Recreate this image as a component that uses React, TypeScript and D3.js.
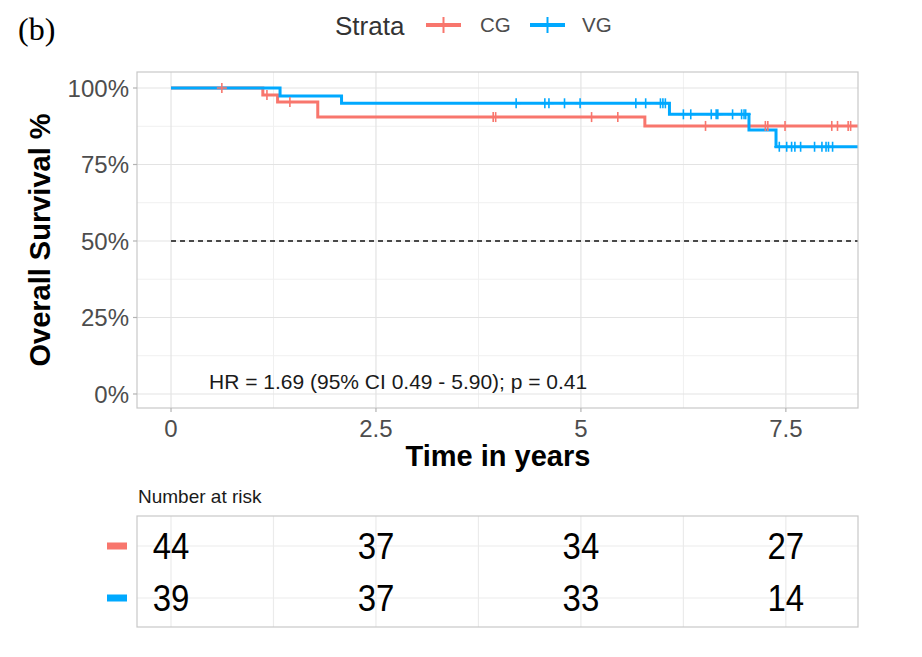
import React from "react";
import * as d3 from "d3";

// ---- data ----
const strata = ["CG", "VG"];
const colors = ["#F8766D", "#00A9FF"];

const cgStepTimes = [0, 1.12, 1.3, 1.79, 5.78];
const cgStepSurv = [1, 0.977, 0.954, 0.905, 0.876];
const cgCensor = [0.62, 1.17, 1.45, 3.93, 3.96, 5.13, 5.45, 6.52, 7.25, 7.28, 7.49, 8.06, 8.13, 8.26, 8.29];

const vgStepTimes = [0, 1.33, 2.08, 6.08, 7.05, 7.38];
const vgStepSurv = [1, 0.974, 0.95, 0.914, 0.863, 0.808];
const vgCensor = [4.21, 4.56, 4.61, 4.8, 4.99, 5.67, 5.79, 5.97, 6.0, 6.03, 6.25, 6.34, 6.59, 6.65, 6.67, 6.85, 6.96, 6.99, 7.01, 7.42, 7.51, 7.57, 7.61, 7.68, 7.85, 7.94, 7.99, 8.02, 8.07];

const xTicks = [0, 2.5, 5, 7.5];
const xMinor = [1.25, 3.75, 6.25];
const yTicks = [0, 0.25, 0.5, 0.75, 1];
const yMinor = [0.125, 0.375, 0.625, 0.875];

const riskTimes = [0, 2.5, 5, 7.5];
const riskCG = [44, 37, 34, 27];
const riskVG = [39, 37, 33, 14];

const hrText = "HR = 1.69 (95% CI 0.49 - 5.90); p = 0.41";

const X_MAX = 8.38;

export default function App() {
  const left = 137, right = 858, top = 72, bottom = 408;
  const x = d3.scaleLinear().domain([-0.415, X_MAX]).range([left, right]);
  const y = d3.scaleLinear().domain([-0.0458, 1.0523]).range([bottom, top]);

  const series = [
    { times: cgStepTimes, surv: cgStepSurv, censor: cgCensor, color: colors[0] },
    { times: vgStepTimes, surv: vgStepSurv, censor: vgCensor, color: colors[1] },
  ];

  const lineGen = d3
    .line<[number, number]>()
    .x((d) => x(d[0]))
    .y((d) => y(d[1]))
    .curve(d3.curveStepAfter);

  const survAt = (times: number[], surv: number[], t: number) => {
    const i = d3.bisectRight(times, t) - 1;
    return surv[Math.max(0, i)];
  };

  const grey30 = "#4D4D4D";
  const font = "Liberation Sans, Arial, sans-serif";

  // risk table
  const tTop = 516, tBottom = 627;
  const rowY = d3.scalePoint<string>().domain(strata).range([546, 598]);

  return (
    <svg width={922} height={657} style={{ position: "absolute", left: 0, top: 0, background: "#fff" }} fontFamily={font}>
      <defs>
        <clipPath id="panel">
          <rect x={left} y={top} width={right - left} height={bottom - top} />
        </clipPath>
      </defs>
      <rect width={922} height={657} fill="#fff" />
      {/* (b) label */}
      <text x={18} y={40} fontFamily="Liberation Serif, Times New Roman, serif" fontSize={32} fill="#000">(b)</text>

      {/* legend */}
      <text x={335} y={35} fontSize={26} fill="#333">Strata</text>
      {strata.map((s, i) => {
        const lx = i === 0 ? 426 : 530;
        const tx = i === 0 ? 480 : 582;
        return (
          <g key={s}>
            <line x1={lx} x2={lx + 35} y1={25} y2={25} stroke={colors[i]} strokeWidth={4} />
            <line x1={lx + 17.5} x2={lx + 17.5} y1={17} y2={33} stroke={colors[i]} strokeWidth={2} />
            <text x={tx} y={32} fontSize={20.5} fill={grey30}>{s}</text>
          </g>
        );
      })}

      {/* panel grid */}
      {xMinor.map((t) => (
        <line key={"xm" + t} x1={x(t)} x2={x(t)} y1={top} y2={bottom} stroke="#F0F0F0" strokeWidth={1} />
      ))}
      {yMinor.map((v) => (
        <line key={"ym" + v} x1={left} x2={right} y1={y(v)} y2={y(v)} stroke="#F0F0F0" strokeWidth={1} />
      ))}
      {xTicks.map((t) => (
        <line key={"xg" + t} x1={x(t)} x2={x(t)} y1={top} y2={bottom} stroke="#E3E3E3" strokeWidth={1.2} />
      ))}
      {yTicks.map((v) => (
        <line key={"yg" + v} x1={left} x2={right} y1={y(v)} y2={y(v)} stroke="#E3E3E3" strokeWidth={1.2} />
      ))}

      {/* median dashed line */}
      <line x1={x(0)} x2={right} y1={y(0.5)} y2={y(0.5)} stroke="#111" strokeWidth={1.4} strokeDasharray="5,4" />

      {/* curves */}
      <g clipPath="url(#panel)">
        {series.map((s, i) => {
          const pts: [number, number][] = s.times.map((t, j) => [t, s.surv[j]] as [number, number]);
          pts.push([X_MAX, s.surv[s.surv.length - 1]]);
          return <path key={"l" + i} d={lineGen(pts) || ""} fill="none" stroke={s.color} strokeWidth={3} />;
        })}
        {series.map((s, i) => (
          <g key={"c" + i}>
            {s.censor.map((t, j) => {
              const cx = x(t), cy = y(survAt(s.times, s.surv, t));
              return (
                <g key={j}>
                  <line x1={cx} x2={cx} y1={cy - 5} y2={cy + 5} stroke={s.color} strokeWidth={1.6} />
                  <line x1={cx - 5} x2={cx + 5} y1={cy} y2={cy} stroke={s.color} strokeWidth={1.6} />
                </g>
              );
            })}
          </g>
        ))}
      </g>

      {/* HR text */}
      <text x={209} y={389} fontSize={21} fill="#1a1a1a">{hrText}</text>

      {/* panel border */}
      <rect x={left} y={top} width={right - left} height={bottom - top} fill="none" stroke="#C8C8C8" strokeWidth={1.2} />

      {/* y axis */}
      {yTicks.map((v) => (
        <g key={"yt" + v}>
          <line x1={left - 4} x2={left} y1={y(v)} y2={y(v)} stroke="#B3B3B3" strokeWidth={1.2} />
          <text x={129} y={y(v)} dy="0.36em" textAnchor="end" fontSize={24} fill={grey30}>
            {d3.format(".0%")(v)}
          </text>
        </g>
      ))}
      <text transform={`translate(50,${(top + bottom) / 2}) rotate(-90)`} textAnchor="middle" fontSize={29} fontWeight="bold" fill="#000">
        Overall Survival %
      </text>

      {/* x axis */}
      {xTicks.map((t) => (
        <g key={"xt" + t}>
          <line x1={x(t)} x2={x(t)} y1={bottom} y2={bottom + 4} stroke="#B3B3B3" strokeWidth={1.2} />
          <text x={x(t)} y={437} textAnchor="middle" fontSize={24} fill={grey30}>
            {String(t)}
          </text>
        </g>
      ))}
      <text x={498} y={466} textAnchor="middle" fontSize={29} fontWeight="bold" fill="#000">
        Time in years
      </text>

      {/* risk table */}
      <text x={138} y={503} fontSize={19} fill="#1a1a1a">Number at risk</text>
      {[...xTicks, ...xMinor].map((t) => (
        <line key={"rg" + t} x1={x(t)} x2={x(t)} y1={tTop} y2={tBottom} stroke="#EBEBEB" strokeWidth={1.2} />
      ))}
      {strata.map((s) => (
        <line key={"rr" + s} x1={left} x2={right} y1={rowY(s)!} y2={rowY(s)!} stroke="#EBEBEB" strokeWidth={1.2} />
      ))}
      <rect x={left} y={tTop} width={right - left} height={tBottom - tTop} fill="none" stroke="#C8C8C8" strokeWidth={1.2} />
      {strata.map((s, i) => (
        <rect key={"sw" + s} x={107} y={rowY(s)! - 3.5} width={20} height={7} fill={colors[i]} />
      ))}
      {[riskCG, riskVG].map((row, i) =>
        row.map((n, j) => (
          <text
            key={"rn" + i + "-" + j}
            transform={`translate(${x(riskTimes[j])},${rowY(strata[i])!}) scale(1,1.12)`}
            dy="0.36em"
            textAnchor="middle"
            fontSize={33}
            fill="#000"
          >
            {n}
          </text>
        ))
      )}
    </svg>
  );
}
